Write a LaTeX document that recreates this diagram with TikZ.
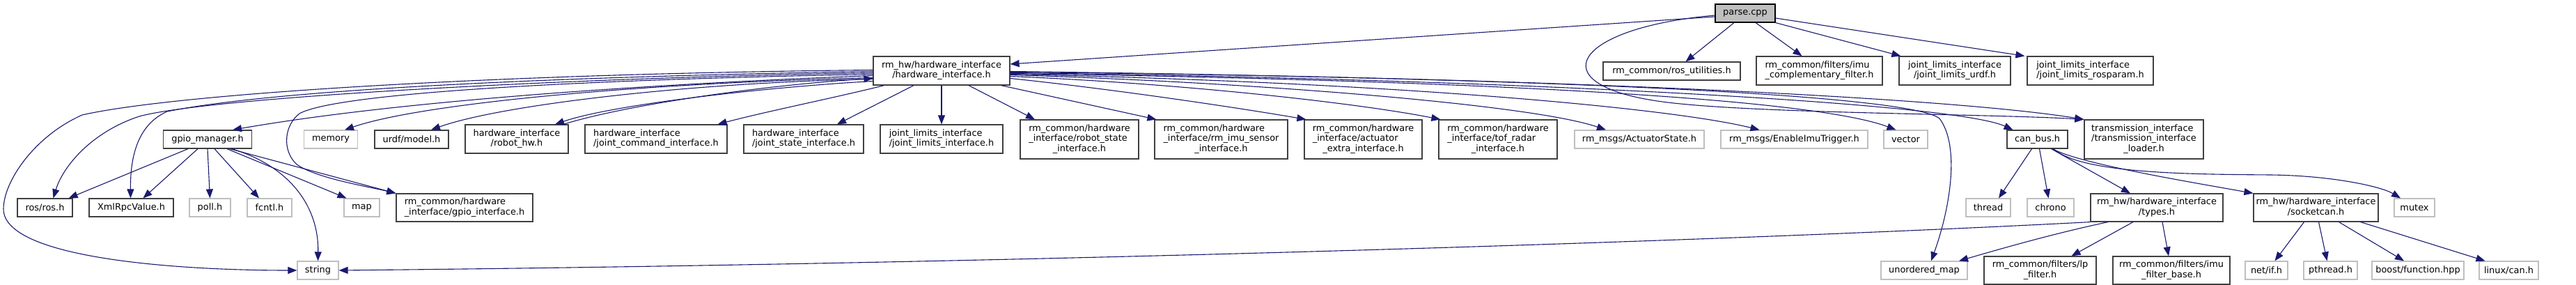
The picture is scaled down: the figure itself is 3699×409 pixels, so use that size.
\documentclass[tikz,border=0pt]{standalone}
\usepackage{fontspec}
\setmainfont{DejaVu Sans}
\usetikzlibrary{arrows.meta}
\definecolor{edgecol}{HTML}{191970}
\definecolor{darkb}{HTML}{404040}
\definecolor{lightb}{HTML}{BFBFBF}
\definecolor{rootfill}{HTML}{BFBFBF}
\newcommand\mlab[2]{\begin{tabular}{@{}l@{}}#1\\\multicolumn{1}{@{}c@{}}{#2}\end{tabular}}
\tikzset{
  base/.style={draw, rectangle, inner sep=0pt, line width=1.2pt, font=\fontsize{12.9}{14.3}\selectfont, text=black, fill=white},
  doc/.style={base, draw=darkb},
  ext/.style={base, draw=lightb},
  root/.style={base, draw=black, fill=rootfill},
  edge/.style={draw=edgecol, line width=1.1pt, -{Triangle[length=13pt,width=10pt]}},
}
\begin{document}
\begin{tikzpicture}[x=1pt,y=-1pt]
\useasboundingbox (0,0) rectangle (3699,409);
% row 0/1
\node[root, minimum width=86pt, minimum height=26pt] (parse) at (2506,19) {parse.cpp};
\node[doc, minimum width=196pt, minimum height=41pt] (hw) at (1352,101.5) {\mlab{rm\_hw/hardware\_interface}{/hardware\_interface.h}};
\node[doc, minimum width=197pt, minimum height=26pt] (rosutil) at (2400.5,102) {rm\_common/ros\_utilities.h};
\node[doc, minimum width=181pt, minimum height=41pt] (imucomp) at (2612.5,101.5) {\mlab{rm\_common/filters/imu}{\_complementary\_filter.h}};
\node[doc, minimum width=160pt, minimum height=41pt] (jlurdf) at (2807,101.5) {\mlab{joint\_limits\_interface}{/joint\_limits\_urdf.h}};
\node[doc, minimum width=181pt, minimum height=41pt] (jlros) at (3001.5,101.5) {\mlab{joint\_limits\_interface}{/joint\_limits\_rosparam.h}};
% row 2
\node[doc, minimum width=127pt, minimum height=26pt] (gpio) at (298,200) {gpio\_manager.h};
\node[ext, minimum width=77pt, minimum height=26pt] (memory) at (475,200) {memory};
\node[doc, minimum width=106pt, minimum height=26pt] (urdf) at (591,200) {urdf/model.h};
\node[doc, minimum width=148pt, minimum height=41pt] (robothw) at (742,199.5) {\mlab{hardware\_interface}{/robot\_hw.h}};
\node[doc, minimum width=204pt, minimum height=41pt] (jcmd) at (942,199.5) {\mlab{hardware\_interface}{/joint\_command\_interface.h}};
\node[doc, minimum width=172pt, minimum height=41pt] (jstate) at (1154,199.5) {\mlab{hardware\_interface}{/joint\_state\_interface.h}};
\node[doc, minimum width=176pt, minimum height=41pt] (jlim) at (1352,199.5) {\mlab{joint\_limits\_interface}{/joint\_limits\_interface.h}};
\node[doc, minimum width=170pt, minimum height=56pt] (rstate) at (1550,200) {\mlab{rm\_common/hardware\\\_interface/robot\_state}{\_interface.h}};
\node[doc, minimum width=191pt, minimum height=56pt] (imusensor) at (1753.5,200) {\mlab{rm\_common/hardware\\\_interface/rm\_imu\_sensor}{\_interface.h}};
\node[doc, minimum width=169pt, minimum height=56pt] (actextra) at (1957.5,200) {\mlab{rm\_common/hardware\\\_interface/actuator}{\_extra\_interface.h}};
\node[doc, minimum width=170pt, minimum height=56pt] (tof) at (2151,200) {\mlab{rm\_common/hardware\\\_interface/tof\_radar}{\_interface.h}};
\node[ext, minimum width=186pt, minimum height=26pt] (actstate) at (2354,200) {rm\_msgs/ActuatorState.h};
\node[ext, minimum width=211pt, minimum height=26pt] (enableimu) at (2576.5,200) {rm\_msgs/EnableImuTrigger.h};
\node[ext, minimum width=63pt, minimum height=26pt] (vector) at (2736.5,200) {vector};
\node[doc, minimum width=87pt, minimum height=26pt] (canbus) at (2925.5,200) {can\_bus.h};
\node[doc, minimum width=171pt, minimum height=56pt] (trans) at (3078.5,200) {\mlab{transmission\_interface\\/transmission\_interface}{\_loader.h}};
% row 3
\node[doc, minimum width=79pt, minimum height=26pt] (ros) at (64.5,298) {ros/ros.h};
\node[doc, minimum width=121pt, minimum height=26pt] (xmlrpc) at (188.5,298) {XmlRpcValue.h};
\node[ext, minimum width=59pt, minimum height=26pt] (poll) at (301.5,298) {poll.h};
\node[ext, minimum width=64pt, minimum height=26pt] (fcntl) at (387,298) {fcntl.h};
\node[ext, minimum width=51pt, minimum height=26pt] (map) at (519.5,298) {map};
\node[doc, minimum width=196pt, minimum height=40pt] (gpioif) at (667,298) {\mlab{rm\_common/hardware}{\_interface/gpio\_interface.h}};
\node[ext, minimum width=64pt, minimum height=26pt] (thread) at (2855,298) {thread};
\node[ext, minimum width=67pt, minimum height=26pt] (chrono) at (2944.5,298) {chrono};
\node[doc, minimum width=190pt, minimum height=40pt] (types) at (3097,298) {\mlab{rm\_hw/hardware\_interface}{/types.h}};
\node[doc, minimum width=179pt, minimum height=40pt] (socketcan) at (3325.5,298) {\mlab{rm\_hw/hardware\_interface}{/socketcan.h}};
\node[ext, minimum width=58pt, minimum height=26pt] (mutex) at (3467,298) {mutex};
% row 4
\node[ext, minimum width=59pt, minimum height=26pt] (string) at (456.5,388) {string};
\node[ext, minimum width=124pt, minimum height=26pt] (umap) at (2763,388) {unordered\_map};
\node[doc, minimum width=161pt, minimum height=40pt] (lp) at (2929.5,388) {\mlab{rm\_common/filters/lp}{\_filter.h}};
\node[doc, minimum width=168pt, minimum height=40pt] (imubase) at (3118,388) {\mlab{rm\_common/filters/imu}{\_filter\_base.h}};
\node[ext, minimum width=61pt, minimum height=26pt] (netif) at (3254.5,388) {net/if.h};
\node[ext, minimum width=77pt, minimum height=26pt] (pthread) at (3346.5,388) {pthread.h};
\node[ext, minimum width=132pt, minimum height=26pt] (boost) at (3472,388) {boost/function.hpp};
\node[ext, minimum width=85pt, minimum height=26pt] (linuxcan) at (3602.5,388) {linux/can.h};

% parse.cpp edges
\draw[edge] ([yshift=-5pt]parse.west) -- ([yshift=9.5pt]hw.east);
\draw[edge] ([xshift=-16pt]parse.south) -- ([xshift=20pt]rosutil.north);
\draw[edge] ([xshift=15pt]parse.south) -- ([xshift=-25pt]imucomp.north);
\draw[edge] (parse.south east) -- ([xshift=3pt]jlurdf.north west);
\draw[edge] ([yshift=-7pt]parse.east) -- ([xshift=-3pt]jlros.north west);
\draw[edge] ([yshift=-3pt]parse.west) .. controls (2260,40) and (2210,120) .. (2380,145) .. controls (2500,163) and (2850,163) .. (trans.north west);

% hw left side
\draw[edge] ([yshift=1pt]hw.west) .. controls (700,106) and (250,135) .. (118,165) .. controls (50,195) and (5,260) .. (5,300) .. controls (5,370) and (250,388) .. (string.west);
\draw[edge] ([yshift=-1pt]hw.west) .. controls (800,110) and (400,128) .. (240,160) .. controls (195,180) and (187,230) .. ([xshift=-1pt]xmlrpc.north);
\draw[edge] ([yshift=-3pt]hw.west) .. controls (800,112) and (300,140) .. (200,167) .. controls (130,190) and (90,240) .. ([xshift=12pt]ros.north);
\draw[edge] ([yshift=-5pt]hw.west) .. controls (800,115) and (480,135) .. (430,163) .. controls (408,180) and (405,215) .. (425,235) .. controls (450,255) and (530,268) .. (gpioif.north west);
\draw[edge] ([yshift=-7pt]hw.west) .. controls (1000,118) and (600,140) .. ([xshift=36pt]gpio.north);
\draw[edge] ([yshift=-10pt]hw.west) .. controls (900,120) and (600,150) .. ([xshift=20pt]memory.north);
\draw[edge] ([yshift=-12pt]hw.west) .. controls (1000,118) and (720,150) .. ([xshift=28pt]urdf.north);
\draw[edge] ([yshift=-15pt]hw.west) .. controls (1100,125) and (880,150) .. ([xshift=55pt]robothw.north);
\draw[edge] ([xshift=67pt]robothw.north) .. controls (900,150) and (1100,122) .. ([yshift=-11pt]hw.west);
\draw[edge] ([xshift=16pt]hw.south west) .. controls (1200,140) and (1100,160) .. ([xshift=-14pt]jcmd.north east);
\draw[edge] ([xshift=-40pt]hw.south) -- ([xshift=48pt]jstate.north);
\draw[edge] (hw.south) -- (jlim.north);
% hw right side
\draw[edge] ([xshift=39pt]hw.south) -- ([xshift=-64pt]rstate.north);
\draw[edge] ([xshift=-13pt]hw.south east) -- ([xshift=3pt]imusensor.north west);
\draw[edge] ([yshift=-11pt]hw.east) .. controls (1600,128) and (1780,155) .. ([xshift=3pt]actextra.north west);
\draw[edge] ([yshift=-8pt]hw.east) .. controls (1700,120) and (1950,148) .. ([xshift=3pt]tof.north west);
\draw[edge] ([yshift=-6pt]hw.east) .. controls (1800,118) and (2200,150) .. ([xshift=-48pt]actstate.north);
\draw[edge] ([yshift=-5pt]hw.east) .. controls (2000,118) and (2400,155) .. ([xshift=-50pt]enableimu.north);
\draw[edge] ([yshift=-4pt]hw.east) .. controls (2100,115) and (2600,140) .. ([xshift=-14pt]vector.north);
\draw[edge] ([yshift=-3pt]hw.east) .. controls (2100,112) and (2800,145) .. ([xshift=-35pt]canbus.north);
\draw[edge] ([yshift=-2pt]hw.east) .. controls (2200,110) and (2800,140) .. (trans.north west);
\draw[edge] ([yshift=-1pt]hw.east) .. controls (2200,112) and (2740,135) .. (2785,170) .. controls (2815,210) and (2800,300) .. ([xshift=10pt]umap.north);

% gpio_manager
\draw[edge] ([xshift=-28pt]gpio.south) -- ([xshift=-6pt]ros.north east);
\draw[edge] ([xshift=-14pt]gpio.south) -- ([xshift=17pt]xmlrpc.north);
\draw[edge] (gpio.south) -- (poll.north);
\draw[edge] ([xshift=10pt]gpio.south) -- ([xshift=-15pt]fcntl.north);
\draw[edge] ([xshift=28pt]gpio.south) -- ([xshift=-22pt]map.north);
\draw[edge] ([xshift=35pt]gpio.south) .. controls (420,240) and (458,300) .. (string.north);
\draw[edge] ([xshift=32pt]gpio.south) -- (gpioif.north west);

% can_bus
\draw[edge] ([xshift=-8pt]canbus.south) -- ([xshift=15pt]thread.north);
\draw[edge] ([xshift=3pt]canbus.south) -- ([xshift=-3pt]chrono.north);
\draw[edge] ([xshift=20pt]canbus.south) -- ([xshift=-38pt]types.north);
\draw[edge] ([xshift=22pt]canbus.south) .. controls (2985,235) and (3150,262) .. (socketcan.north west);
\draw[edge] ([xshift=23pt]canbus.south) .. controls (2990,250) and (3150,250) .. (3260,251) .. controls (3350,252) and (3420,268) .. ([xshift=-20pt]mutex.north);

% types
\draw[edge] (types.south west) .. controls (2500,345) and (1500,378) .. (string.east);
\draw[edge] ([xshift=-70pt]types.south) .. controls (2950,335) and (2880,355) .. ([xshift=50pt]umap.north);
\draw[edge] ([xshift=-34pt]types.south) -- ([xshift=45pt]lp.north);
\draw[edge] ([xshift=8pt]types.south) -- ([xshift=-4pt]imubase.north);

% socketcan
\draw[edge] ([xshift=-17pt]socketcan.south) -- ([xshift=12pt]netif.north);
\draw[edge] ([xshift=4pt]socketcan.south) -- ([xshift=-5pt]pthread.north);
\draw[edge] ([xshift=33pt]socketcan.south) -- ([xshift=-20pt]boost.north);
\draw[edge] ([xshift=64pt]socketcan.south) -- ([xshift=-34pt]linuxcan.north);
\end{tikzpicture}
\end{document}
